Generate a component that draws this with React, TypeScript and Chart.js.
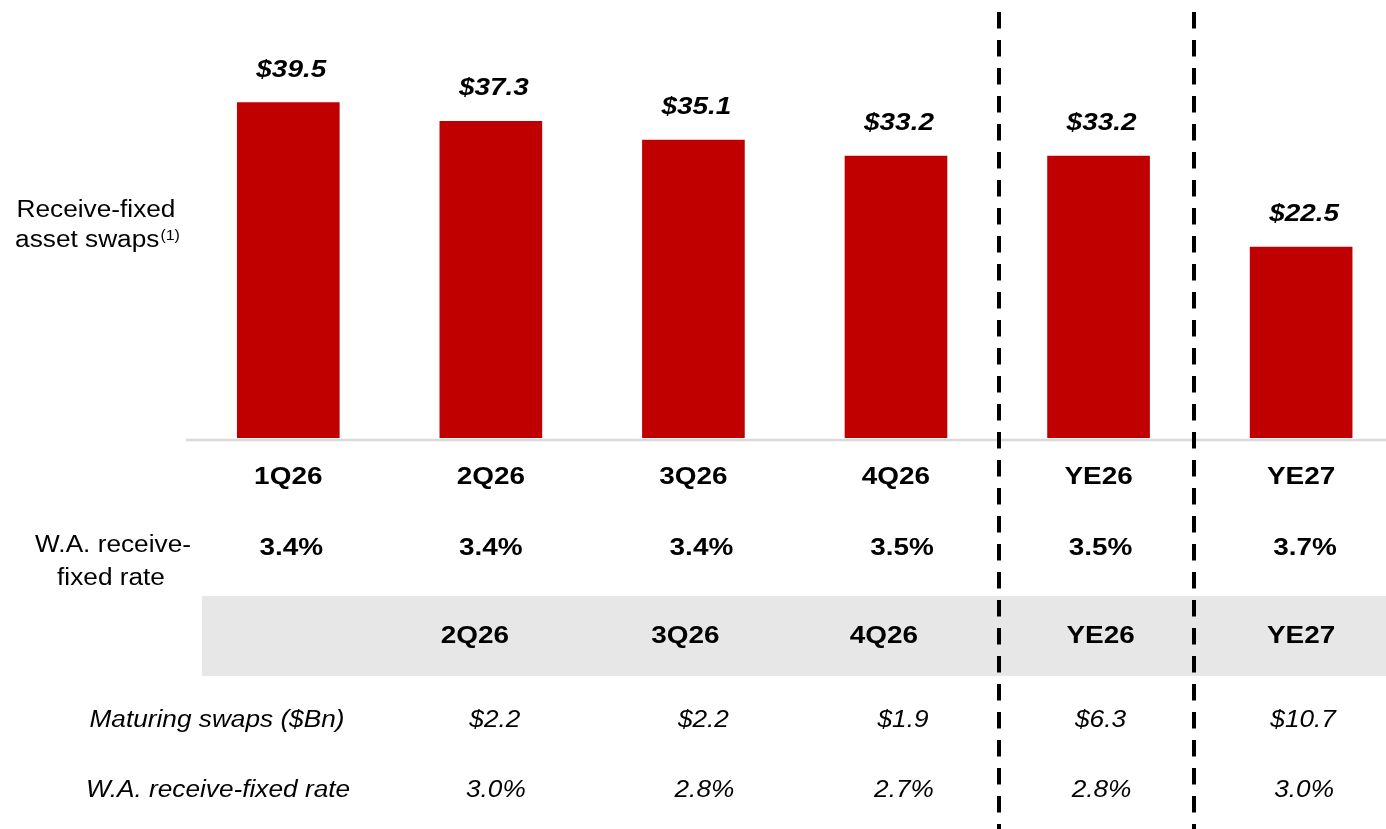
import { useEffect, useRef } from 'react';
import { Chart, registerables } from 'chart.js';

Chart.register(...registerables);

// ---- data ----
const categories = ['1Q26', '2Q26', '3Q26', '4Q26', 'YE26', 'YE27'];
const swapValues = [39.5, 37.3, 35.1, 33.2, 33.2, 22.5];
const waRates = ['3.4%', '3.4%', '3.4%', '3.5%', '3.5%', '3.7%'];
const maturingPeriods = ['', '2Q26', '3Q26', '4Q26', 'YE26', 'YE27'];
const maturingSwaps = [null, 2.2, 2.2, 1.9, 6.3, 10.7];
const maturingRates = ['', '3.0%', '2.8%', '2.7%', '2.8%', '3.0%'];

// ---- layout constants ----
const W = 1386;
const H = 829;
const SX = 1.14; // horizontal text stretch
const FONT = "'Liberation Sans', Arial, sans-serif";
const dividerPositions = [3.51, 4.47];
const rateShift = [3, 0, 8, 6, 2, 4];
const periodShift = [0, -16, -8, -12, 2, 0];
const maturingShift = [0, 4, 10, 7, 2, 2];

function txt(ctx: CanvasRenderingContext2D, s: string, x: number, y: number, font: string, align: CanvasTextAlign = 'center') {
  ctx.save();
  ctx.font = font;
  ctx.fillStyle = '#000000';
  ctx.textAlign = align;
  ctx.textBaseline = 'alphabetic';
  ctx.translate(x, y);
  ctx.scale(SX, 1);
  ctx.fillText(s, 0, 0);
  ctx.restore();
}

const tablePlugin = {
  id: 'tablePlugin',
  beforeDatasetsDraw(chart: any) {
    const ctx: CanvasRenderingContext2D = chart.ctx;
    const yScale = chart.scales.y;
    ctx.save();
    // grey band
    ctx.fillStyle = '#E7E7E7';
    ctx.fillRect(202, 596, W - 202, 80);
    // baseline
    ctx.strokeStyle = '#D9D9D9';
    ctx.lineWidth = 2.5;
    ctx.beginPath();
    const y0 = yScale.getPixelForValue(0) + 2;
    ctx.moveTo(186, y0);
    ctx.lineTo(W, y0);
    ctx.stroke();
    ctx.restore();
  },
  afterDatasetsDraw(chart: any) {
    const ctx: CanvasRenderingContext2D = chart.ctx;
    const xScale = chart.scales.x;
    const yScale = chart.scales.y;
    const bold = `bold 24.5px ${FONT}`;
    const boldItalic = `italic bold 24.5px ${FONT}`;
    const reg = `23px ${FONT}`;
    const ital = `italic 23px ${FONT}`;

    // dashed dividers
    ctx.save();
    ctx.strokeStyle = '#000000';
    ctx.lineWidth = 4;
    ctx.setLineDash([16.5, 11.5]);
    dividerPositions.forEach((p) => {
      const x = Math.round(xScale.getPixelForValue(p));
      ctx.beginPath();
      ctx.moveTo(x, 12);
      ctx.lineTo(x, H);
      ctx.stroke();
    });
    ctx.restore();

    categories.forEach((c, i) => {
      const cx = xScale.getPixelForValue(i);
      const top = yScale.getPixelForValue(swapValues[i]);
      txt(ctx, '$' + swapValues[i].toFixed(1), cx + 3, top - 26, boldItalic);
      txt(ctx, c, cx, 484, bold);
      txt(ctx, waRates[i], cx + rateShift[i], 555, bold);
      if (maturingPeriods[i]) txt(ctx, maturingPeriods[i], cx + periodShift[i], 643, bold);
      const m = maturingSwaps[i];
      if (m !== null) txt(ctx, '$' + m.toFixed(1), cx + maturingShift[i], 727, ital);
      if (maturingRates[i]) txt(ctx, maturingRates[i], cx + maturingShift[i] + 1, 797, ital);
    });

    // left labels
    txt(ctx, 'Receive-fixed', 96, 217, reg);
    ctx.save();
    ctx.font = reg;
    const w1 = ctx.measureText('asset swaps').width * SX;
    ctx.font = `14px ${FONT}`;
    const w2 = ctx.measureText('(1)').width * SX;
    ctx.restore();
    const start = 97 - (w1 + w2) / 2;
    txt(ctx, 'asset swaps', start, 247, reg, 'left');
    txt(ctx, '(1)', start + w1 + 1, 240, `14px ${FONT}`, 'left');

    txt(ctx, 'W.A. receive-', 113, 552, reg);
    txt(ctx, 'fixed rate', 111, 585, reg);
    txt(ctx, 'Maturing swaps ($Bn)', 217, 727, ital);
    txt(ctx, 'W.A. receive-fixed rate', 218, 797, ital);
  },
};

export default function App() {
  const ref = useRef<HTMLCanvasElement>(null);
  useEffect(() => {
    document.body.style.margin = '0';
    const chart = new Chart(ref.current as HTMLCanvasElement, {
      type: 'bar',
      data: {
        datasets: [
          {
            data: swapValues.map((v, i) => ({ x: i, y: v })) as any,
            backgroundColor: '#C00000',
            borderWidth: 0,
            barThickness: 102,
          },
        ],
      },
      options: {
        animation: false,
        responsive: false,
        devicePixelRatio: 1,
        layout: { padding: { left: 187, right: 0, top: 0, bottom: 391 } },
        scales: {
          x: { type: 'linear', min: -0.5, max: 5.419, offset: false, display: false },
          y: { min: 0, max: 51.59, display: false },
        },
        plugins: { legend: { display: false }, tooltip: { enabled: false } },
      },
      plugins: [tablePlugin],
    });
    return () => chart.destroy();
  }, []);
  return <canvas ref={ref} width={W} height={H} style={{ display: 'block' }} />;
}
